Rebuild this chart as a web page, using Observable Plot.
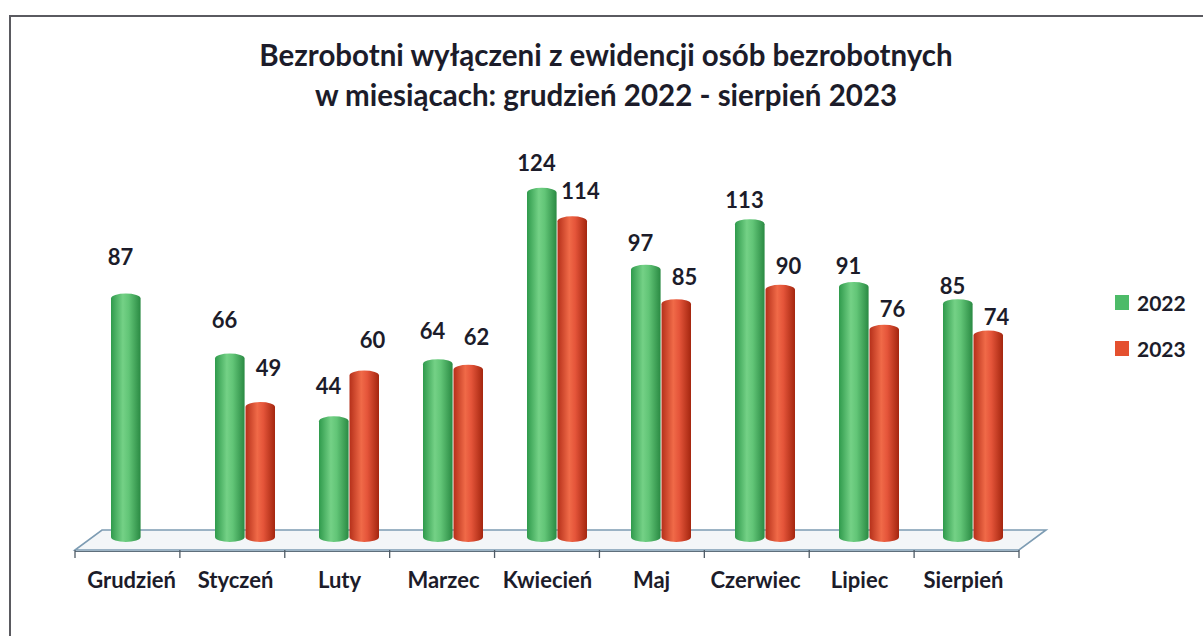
<!DOCTYPE html>
<html><head><meta charset="utf-8">
<script src="https://cdn.jsdelivr.net/npm/d3@7"></script>
<script src="https://cdn.jsdelivr.net/npm/@observablehq/plot@0.6"></script>
<style>
body{margin:0;background:#fff;font-family:Lato,"Open Sans",sans-serif;}
#wrap{position:relative;width:1203px;height:636px;overflow:hidden;background:#fff}
#frame{position:absolute;left:9px;top:15px;width:1220px;height:660px;border:2px solid #5a5a60;box-sizing:border-box}
#title{position:absolute;left:0;top:35px;width:1212px;text-align:center;font-weight:700;font-size:29.5px;line-height:40px;color:#1c1c2a}
#chart{position:absolute;left:0;top:120px}
#legend{position:absolute;left:1115px;top:287px;font-weight:700;font-size:21px;color:#1c1c2a}
#legend div{display:flex;align-items:center;height:30px;margin-bottom:16px}
#legend span.sw{display:inline-block;width:14px;height:15px;margin-right:8px}
</style></head>
<body>
<div id="wrap">
  <div id="frame"></div>
  <div id="title">Bezrobotni wyłączeni z ewidencji osób bezrobotnych<br>w miesiącach: grudzień 2022 - sierpień 2023</div>
  <div id="chart"></div>
  <div id="legend"></div>
</div>
<script>
const months = ["Grudzień","Styczeń","Luty","Marzec","Kwiecień","Maj","Czerwiec","Lipiec","Sierpień"];
const values2022 = [87,66,44,64,124,97,113,91,85];
const values2023 = [null,49,60,62,114,85,90,76,74];
const seriesNames = ["2022","2023"];
const seriesColors = ["#4dbb68","#e4502f"];

const rows = [];
months.forEach((m,i)=>{
  rows.push({month:m, series:"2022", value:values2022[i], i});
  if (values2023[i] != null) rows.push({month:m, series:"2023", value:values2023[i], i});
});
const r22 = rows.filter(d=>d.series==="2022");
const r23 = rows.filter(d=>d.series==="2023");

function floorMark(index, scales, values, dims){
  const y0 = scales.y(0);
  const x0 = dims.marginLeft, x1 = dims.width - dims.marginRight;
  const depth = 27, front = 8, back = -12;
  const g = d3.create("svg:g");
  g.append("path")
    .attr("d", `M${x0},${y0+front}L${x1},${y0+front}L${x1+depth},${y0+back}L${x0+depth},${y0+back}Z`)
    .attr("fill","#f3f6f8").attr("stroke","#7d9cb3").attr("stroke-width",1.6);
  g.append("line").attr("x1",x0).attr("x2",x1).attr("y1",y0+front+1.5).attr("y2",y0+front+1.5)
    .attr("stroke","#5f6f7c").attr("stroke-width",1.2);
  const n = months.length;
  for (let k=0;k<=n;k++){
    const x = x0 + k*(x1-x0)/n;
    g.append("line").attr("x1",x).attr("x2",x).attr("y1",y0+front).attr("y2",y0+front+8)
      .attr("stroke","#4f5b66").attr("stroke-width",1.3);
  }
  return g.node();
}

const labelMarks = [];
months.forEach((m,i)=>{
  const off = 36 - 2.9*i;
  labelMarks.push(Plot.text(r22.filter(d=>d.i===i), {x:"month", y:"value", text:d=>String(d.value),
    dx:-11, dy:-off, fontSize:22, fontWeight:700, fill:"#1c1c2a", lineAnchor:"middle"}));
  labelMarks.push(Plot.text(r23.filter(d=>d.i===i), {x:"month", y:"value", text:d=>String(d.value),
    dx:33, dy:-off, fontSize:22, fontWeight:700, fill:"#1c1c2a", lineAnchor:"middle"}));
});

const chart = Plot.plot({
  width:1203, height:500,
  marginLeft:75, marginRight:184, marginTop:22, marginBottom:78,
  style:{fontFamily:"Lato, 'Open Sans', sans-serif", background:"transparent", overflow:"visible"},
  x:{domain:months, padding:0, axis:null},
  y:{domain:[0,140], axis:null},
  marks:[
    floorMark,
    Plot.barY(r22, {x:"month", y:"value", fill:"url(#g2022)", insetLeft:32, insetRight:42.4, rx:15, ry:5}),
    Plot.barY(r23, {x:"month", y:"value", fill:"url(#g2023)", insetLeft:62.5, insetRight:12, rx:15, ry:5}),
    ...labelMarks,
    Plot.text(months, {x:d=>d, frameAnchor:"bottom", dy:38, text:d=>d, fontSize:22, fontWeight:700, fill:"#1c1c2a", lineAnchor:"middle"})
  ]
});

const defs = d3.select(chart).insert("defs", ":first-child");
function grad(id, stops){
  const lg = defs.append("linearGradient").attr("id",id).attr("x1","0").attr("x2","1").attr("y1","0").attr("y2","0");
  stops.forEach(([o,c])=>lg.append("stop").attr("offset",o).attr("stop-color",c));
}
grad("g2022", [[0,"#2f9a4c"],[0.4,"#74d186"],[0.6,"#62c577"],[1,"#2a8a43"]]);
grad("g2023", [[0,"#b5301a"],[0.4,"#f06a48"],[0.6,"#e5553a"],[1,"#a4260f"]]);
document.getElementById("chart").appendChild(chart);

const legend = document.getElementById("legend");
seriesNames.forEach((s,k)=>{
  const row = document.createElement("div");
  row.innerHTML = `<span class="sw" style="background:${seriesColors[k]}"></span>${s}`;
  legend.appendChild(row);
});
</script>
</body></html>
